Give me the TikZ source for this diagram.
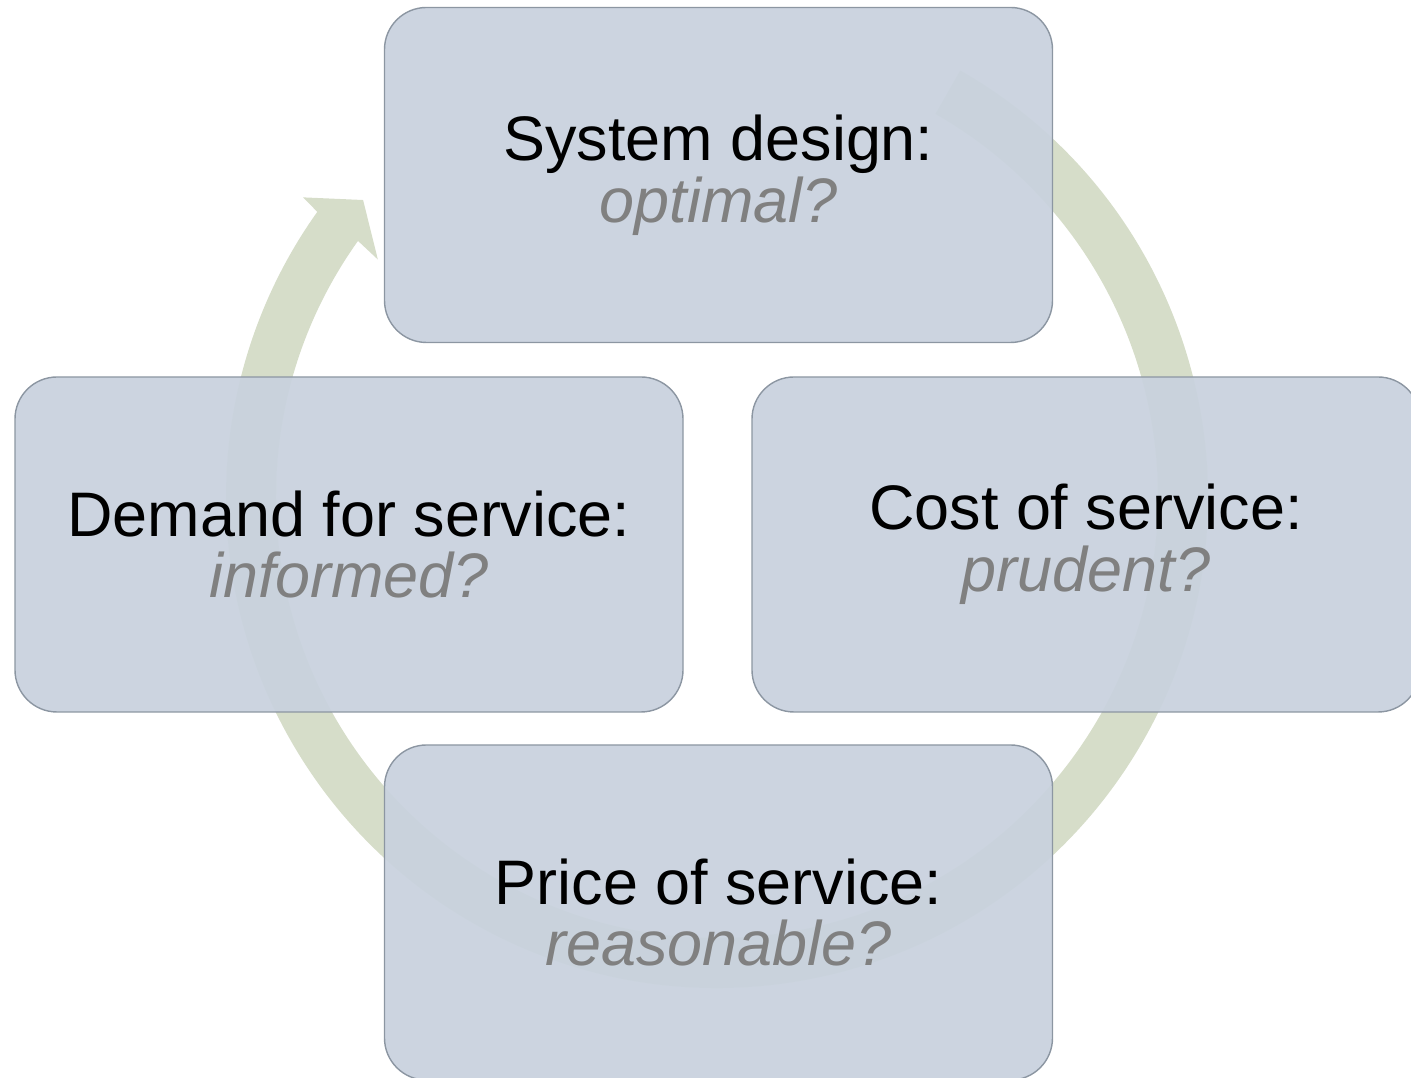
\documentclass[tikz,border=0pt]{standalone}
\usepackage{fontspec}
\setmainfont{Liberation Sans}
\usetikzlibrary{calc}
\definecolor{Bcolor}{RGB}{201, 210, 222}
\definecolor{Ecolor}{RGB}{140, 150, 162}
\definecolor{Rcolor}{RGB}{214, 221, 201}
\definecolor{Qcolor}{RGB}{128, 128, 128}
\def\boxwidth{6.68}
\def\boxheight{3.35}
\def\ringouter{4.91}
\def\ringinner{4.41}
\def\startangle{60.3}
\def\endangle{144.5}

\begin{document}
\begin{tikzpicture}[stage/.style={draw=Ecolor, line width=0.4pt, fill=Bcolor, fill opacity=0.95, text opacity=1, rounded corners=0.42cm, minimum width=\boxwidth cm, minimum height=\boxheight cm, align=center, font=\fontsize{17.9}{17.6}\selectfont}]
    \useasboundingbox (0,0) rectangle (14.11,-10.78);
    \clip (0,0) rectangle (14.11,-10.78);
    \coordinate (C) at (7.17,-4.97);
    % ring arrow
    \fill[Rcolor] ($(C)+(\startangle:\ringouter)$) arc[start angle=\startangle, end angle={\endangle-360}, radius=\ringouter]
        -- ($(C)+(144.1:5.11)$) -- ($(C)+(140:4.62)$) -- ($(C)+(145:4.14)$)
        -- ($(C)+(\endangle:\ringinner)$) arc[start angle=\endangle, end angle={\startangle+360}, radius=\ringinner] -- cycle;
    % stages
    \node[stage] (design) at (7.185,-1.75) {System design:\\ \textcolor{Qcolor}{\textit{optimal?}}};
    \node[stage] (cost) at (10.86,-5.445) {Cost of service:\\ \textcolor{Qcolor}{\textit{prudent?}}};
    \node[stage] (price) at (7.185,-9.125) {Price of service:\\ \textcolor{Qcolor}{\textit{reasonable?}}};
    \node[stage] (demand) at (3.49,-5.445) {Demand for service:\\ \textcolor{Qcolor}{\textit{informed?}}};
\end{tikzpicture}
\end{document}
